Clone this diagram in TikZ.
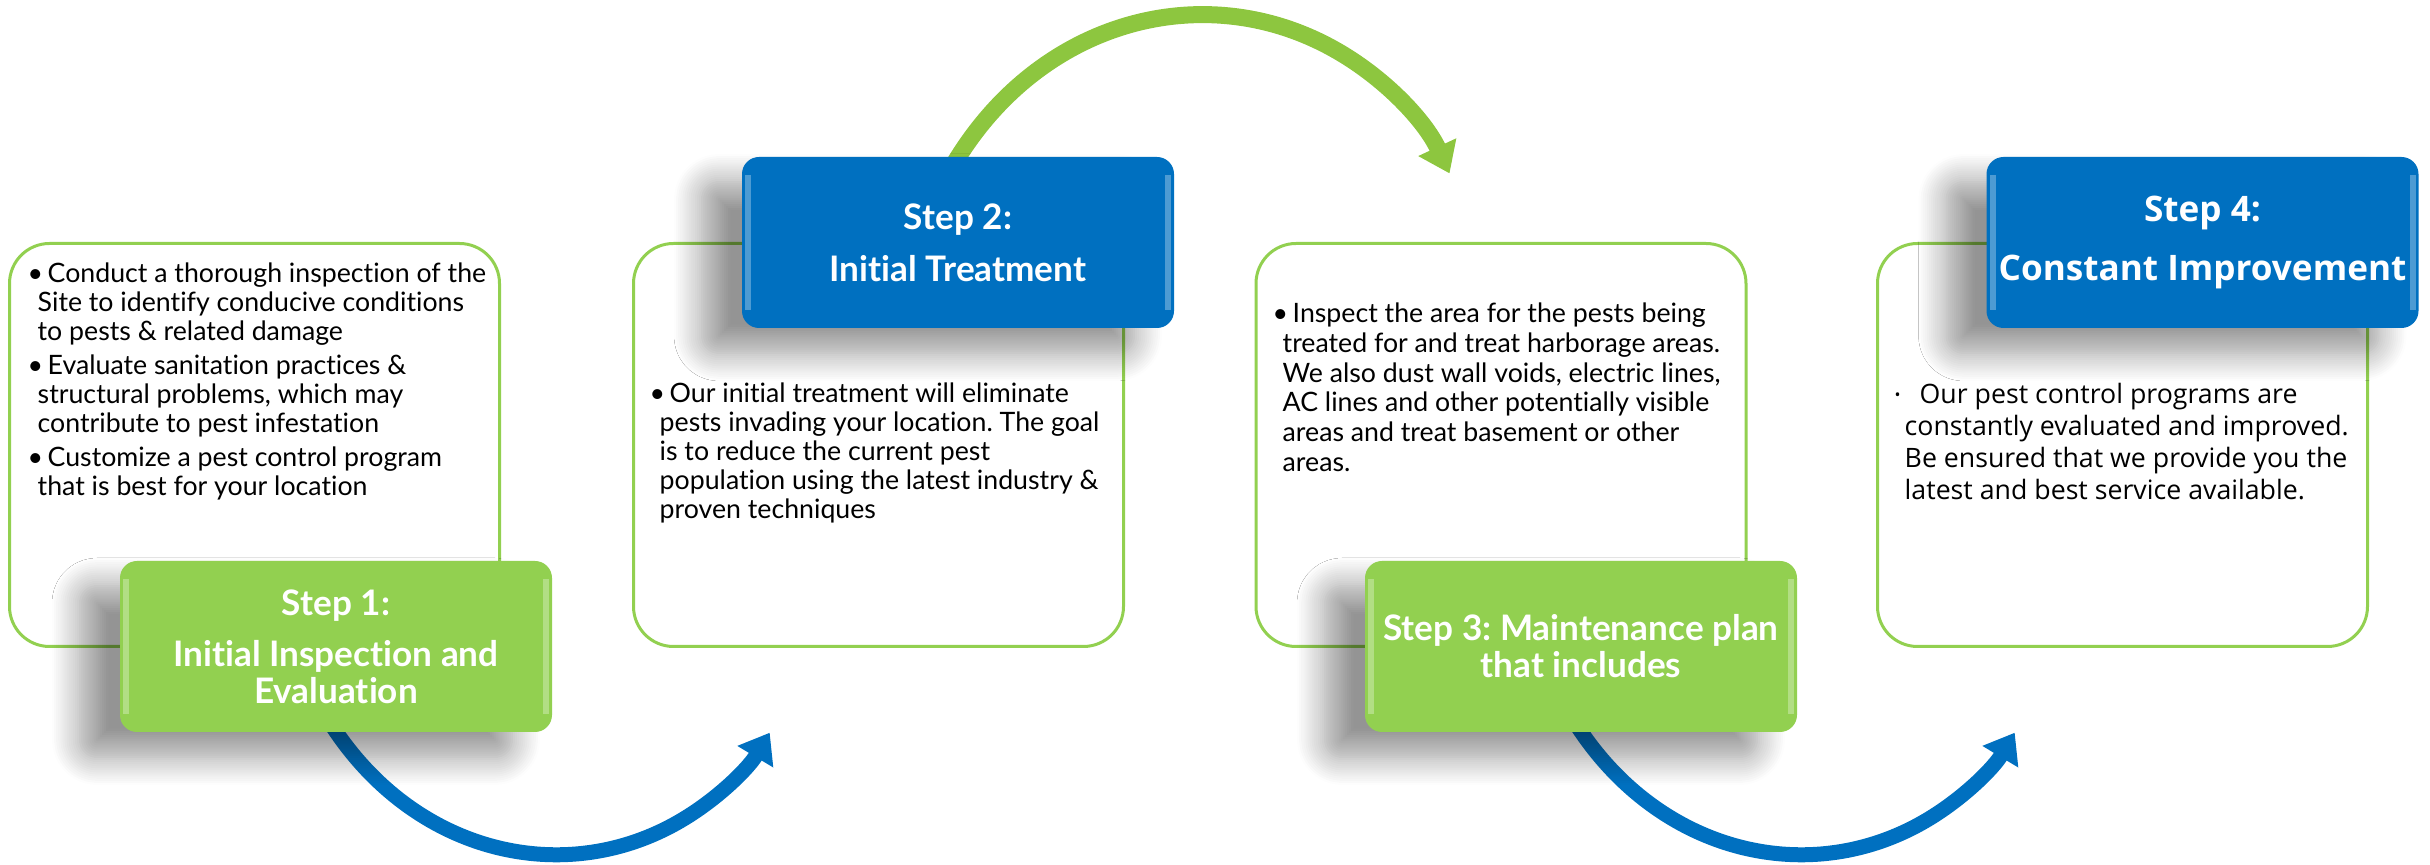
\documentclass[tikz,border=0pt]{standalone}
\usepackage{fontspec}
\setmainfont{Lato}[Ligatures=NoCommon]
\newfontfamily\osans{Open Sans}
\usetikzlibrary{arrows.meta,backgrounds,shadows.blur}

\definecolor{stepblue}{HTML}{0070C0}
\definecolor{stepgreen}{HTML}{92D050}
\definecolor{arcgreen}{HTML}{8DC63F}
\definecolor{framegreen}{HTML}{92D050}

\newcommand{\itembullet}{\makebox[2mm][l]{\textbullet}}
\frenchspacing

\tikzset{
  infobox/.style={draw=framegreen, line width=0.3mm, fill=white, rounded corners=4mm,
    minimum width=49mm, minimum height=40.3mm, inner sep=0pt},
  stepbox/.style={rounded corners=1.7mm, minimum width=43.2mm, minimum height=17.1mm,
    inner sep=0pt, align=center, text=white, font=\bfseries\fontsize{10}{10.5}\selectfont,
    blur shadow={shadow xshift=-4mm, shadow yshift=-2.5mm, shadow blur radius=2.8mm,
      shadow blur steps=14, shadow opacity=42},
    path picture={
      \draw[white, opacity=.3, line width=0.6mm]
        ([xshift=0.6mm,yshift=-1.8mm]path picture bounding box.north west)
        -- ([xshift=0.6mm,yshift=1.8mm]path picture bounding box.south west);
      \draw[white, opacity=.3, line width=0.6mm]
        ([xshift=-0.6mm,yshift=-1.8mm]path picture bounding box.north east)
        -- ([xshift=-0.6mm,yshift=1.8mm]path picture bounding box.south east);
    }},
  bodytext/.style={anchor=north west, inner sep=0pt, align=left,
    font=\fontsize{7.6}{8.25}\selectfont},
  bluearc/.style={draw=stepblue, line width=1.5mm, shorten <=-2mm,
    -{Triangle[length=2.8mm,width=4mm]}},
  greenarc/.style={draw=arcgreen, line width=1.7mm, shorten <=-2mm,
    -{Triangle[length=2.9mm,width=4mm]}},
}

\begin{document}
\begin{tikzpicture}[x=0.1mm,y=0.1mm]
\useasboundingbox (0,0) rectangle (2430,865);

% text boxes
\node[infobox] (box1) at (254.5,420) {};
\node[infobox] (box2) at (878.5,420) {};
\node[infobox] (box3) at (1501,420) {};
\node[infobox] (box4) at (2122.5,420) {};

% step headers
\node[stepbox, fill=stepgreen] (head1) at (336,218.5) {Step 1:\\[4pt] Initial Inspection and\\ Evaluation};
\node[stepbox, fill=stepblue] (head2) at (958,622.5) {Step 2:\\[4.2pt] Initial Treatment};
\node[stepbox, fill=stepgreen] (head3) at (1581,218.5) {Step 3: Maintenance plan\\ that includes};
\node[stepbox, fill=stepblue, font=\osans\bfseries\fontsize{10}{10.5}\selectfont] (head4) at (2202.5,622.5) {Step 4:\\[6.5pt] Constant Improvement};

% bullet texts
\node[bodytext] (txt1) at (27,603) {%
\itembullet Conduct a thorough inspection of the\\
\hspace*{1mm}Site to identify conducive conditions\\
\hspace*{1mm}to pests \& related damage\\[1.4pt]
\itembullet Evaluate sanitation practices \&\\
\hspace*{1mm}structural problems, which may\\
\hspace*{1mm}contribute to pest infestation\\[1.4pt]
\itembullet Customize a pest control program\\
\hspace*{1mm}that is best for your location};
\node[bodytext] (txt2) at (649,483) {%
\itembullet Our initial treatment will eliminate\\
\hspace*{1mm}pests invading your location. The goal\\
\hspace*{1mm}is to reduce the current pest\\
\hspace*{1mm}population using the latest industry \&\\
\hspace*{1mm}proven techniques};
\node[bodytext, font=\fontsize{7.6}{8.5}\selectfont] (txt3) at (1272,563) {%
\itembullet Inspect the area for the pests being\\
\hspace*{1mm}treated for and treat harborage areas.\\
\hspace*{1mm}We also dust wall voids, electric lines,\\
\hspace*{1mm}AC lines and other potentially visible\\
\hspace*{1mm}areas and treat basement or other\\
\hspace*{1mm}areas.};
\node[bodytext, font=\osans\fontsize{7.6}{9.1}\selectfont] (txt4) at (1894,482) {%
\makebox[1.8mm][l]{\raisebox{0.35mm}{\fontsize{4.5}{4.5}\selectfont\textbullet}} Our pest control programs are\\
\hspace*{1mm}constantly evaluated and improved.\\
\hspace*{1mm}Be ensured that we provide you the\\
\hspace*{1mm}latest and best service available.};

% curved arrows
\begin{scope}[on background layer]
\draw[bluearc] (head1.south) arc[start angle=211, end angle=329, radius=25.3mm];
\draw[greenarc] (head2.north) arc[start angle=151, end angle=25, radius=27.6mm];
\draw[bluearc] (head3.south) arc[start angle=211, end angle=329, radius=25.3mm];
\end{scope}
\end{tikzpicture}
\end{document}
